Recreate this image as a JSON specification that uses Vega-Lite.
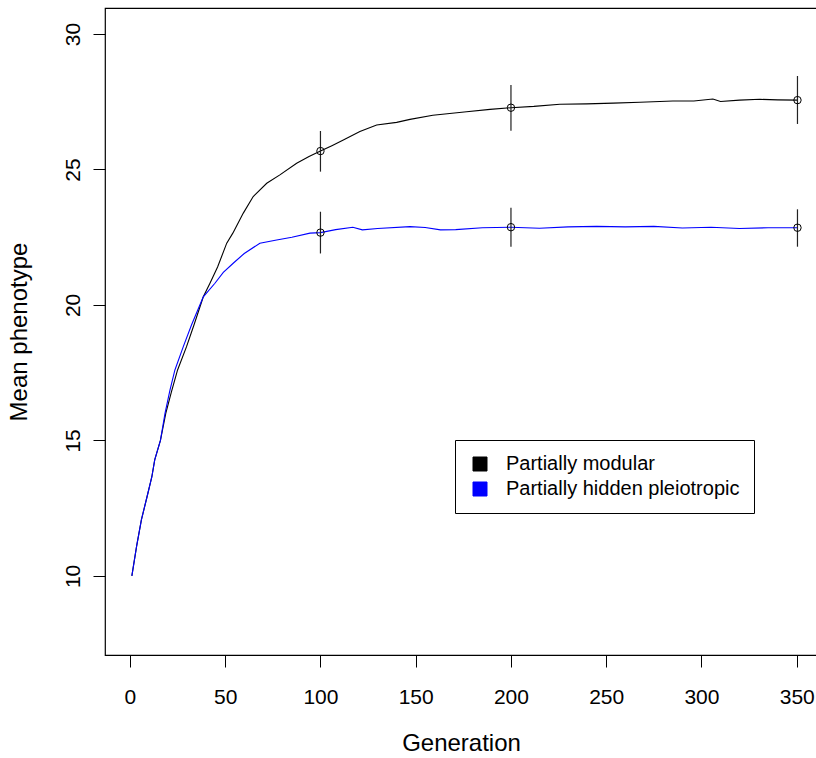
{
  "$schema": "https://vega.github.io/schema/vega-lite/v6.json",
  "autosize": {"type": "none"},
  "padding": {"left": 105, "top": 8, "right": 0, "bottom": 103},
  "width": 712,
  "height": 647,
  "background": "white",
  "config": {
    "font": "Liberation Sans",
    "view": {"stroke": "black", "strokeWidth": 1.2},
    "axis": {
      "grid": false,
      "domain": false,
      "tickColor": "black",
      "tickSize": 12,
      "labelColor": "black",
      "labelFontSize": 21,
      "labelFont": "Liberation Sans",
      "titleFont": "Liberation Sans",
      "titleFontSize": 24,
      "titleFontWeight": "normal",
      "titleColor": "black"
    }
  },
  "datasets": {
    "curves": [
      {"series": "Partially modular", "gen": 1, "value": 10.0},
      {"series": "Partially modular", "gen": 3.5, "value": 11.1},
      {"series": "Partially modular", "gen": 6, "value": 12.07},
      {"series": "Partially modular", "gen": 9, "value": 12.93},
      {"series": "Partially modular", "gen": 11.5, "value": 13.66},
      {"series": "Partially modular", "gen": 13, "value": 14.28},
      {"series": "Partially modular", "gen": 16, "value": 15.0},
      {"series": "Partially modular", "gen": 18.8, "value": 16.0},
      {"series": "Partially modular", "gen": 21.8, "value": 16.8},
      {"series": "Partially modular", "gen": 25, "value": 17.6},
      {"series": "Partially modular", "gen": 29.7, "value": 18.46},
      {"series": "Partially modular", "gen": 33.6, "value": 19.26},
      {"series": "Partially modular", "gen": 38.5, "value": 20.3},
      {"series": "Partially modular", "gen": 42, "value": 20.8},
      {"series": "Partially modular", "gen": 46, "value": 21.4},
      {"series": "Partially modular", "gen": 50.8, "value": 22.28},
      {"series": "Partially modular", "gen": 54, "value": 22.65},
      {"series": "Partially modular", "gen": 59.5, "value": 23.39},
      {"series": "Partially modular", "gen": 64.7, "value": 24.0},
      {"series": "Partially modular", "gen": 71.8, "value": 24.49},
      {"series": "Partially modular", "gen": 78.7, "value": 24.8},
      {"series": "Partially modular", "gen": 87.5, "value": 25.23},
      {"series": "Partially modular", "gen": 94, "value": 25.48},
      {"series": "Partially modular", "gen": 100, "value": 25.68},
      {"series": "Partially modular", "gen": 106, "value": 25.88},
      {"series": "Partially modular", "gen": 112, "value": 26.09},
      {"series": "Partially modular", "gen": 120.7, "value": 26.4},
      {"series": "Partially modular", "gen": 129.5, "value": 26.64},
      {"series": "Partially modular", "gen": 140, "value": 26.74},
      {"series": "Partially modular", "gen": 147, "value": 26.85},
      {"series": "Partially modular", "gen": 159, "value": 27.0},
      {"series": "Partially modular", "gen": 176.7, "value": 27.13},
      {"series": "Partially modular", "gen": 189, "value": 27.22},
      {"series": "Partially modular", "gen": 200, "value": 27.28},
      {"series": "Partially modular", "gen": 212, "value": 27.33},
      {"series": "Partially modular", "gen": 225.7, "value": 27.41},
      {"series": "Partially modular", "gen": 239.7, "value": 27.42},
      {"series": "Partially modular", "gen": 253.7, "value": 27.45},
      {"series": "Partially modular", "gen": 267.7, "value": 27.48},
      {"series": "Partially modular", "gen": 285, "value": 27.53},
      {"series": "Partially modular", "gen": 296, "value": 27.53},
      {"series": "Partially modular", "gen": 306, "value": 27.6},
      {"series": "Partially modular", "gen": 310, "value": 27.51},
      {"series": "Partially modular", "gen": 320, "value": 27.56},
      {"series": "Partially modular", "gen": 330.7, "value": 27.59},
      {"series": "Partially modular", "gen": 340, "value": 27.57},
      {"series": "Partially modular", "gen": 350.4, "value": 27.56},
      {"series": "Partially hidden pleiotropic", "gen": 1, "value": 10.0},
      {"series": "Partially hidden pleiotropic", "gen": 3.5, "value": 11.1},
      {"series": "Partially hidden pleiotropic", "gen": 6, "value": 12.07},
      {"series": "Partially hidden pleiotropic", "gen": 9, "value": 12.93},
      {"series": "Partially hidden pleiotropic", "gen": 11.5, "value": 13.66},
      {"series": "Partially hidden pleiotropic", "gen": 13, "value": 14.28},
      {"series": "Partially hidden pleiotropic", "gen": 16, "value": 15.0},
      {"series": "Partially hidden pleiotropic", "gen": 18.4, "value": 16.0},
      {"series": "Partially hidden pleiotropic", "gen": 21, "value": 16.86},
      {"series": "Partially hidden pleiotropic", "gen": 23.6, "value": 17.6},
      {"series": "Partially hidden pleiotropic", "gen": 28, "value": 18.46},
      {"series": "Partially hidden pleiotropic", "gen": 32.3, "value": 19.26},
      {"series": "Partially hidden pleiotropic", "gen": 38.5, "value": 20.3},
      {"series": "Partially hidden pleiotropic", "gen": 44.6, "value": 20.8},
      {"series": "Partially hidden pleiotropic", "gen": 49, "value": 21.2},
      {"series": "Partially hidden pleiotropic", "gen": 54.2, "value": 21.54},
      {"series": "Partially hidden pleiotropic", "gen": 60, "value": 21.9},
      {"series": "Partially hidden pleiotropic", "gen": 68.2, "value": 22.28},
      {"series": "Partially hidden pleiotropic", "gen": 77, "value": 22.4},
      {"series": "Partially hidden pleiotropic", "gen": 85, "value": 22.5},
      {"series": "Partially hidden pleiotropic", "gen": 94.5, "value": 22.65},
      {"series": "Partially hidden pleiotropic", "gen": 100, "value": 22.67},
      {"series": "Partially hidden pleiotropic", "gen": 108, "value": 22.78},
      {"series": "Partially hidden pleiotropic", "gen": 117, "value": 22.87},
      {"series": "Partially hidden pleiotropic", "gen": 122, "value": 22.77},
      {"series": "Partially hidden pleiotropic", "gen": 130, "value": 22.82},
      {"series": "Partially hidden pleiotropic", "gen": 147, "value": 22.89},
      {"series": "Partially hidden pleiotropic", "gen": 155, "value": 22.86},
      {"series": "Partially hidden pleiotropic", "gen": 163, "value": 22.77},
      {"series": "Partially hidden pleiotropic", "gen": 171, "value": 22.78},
      {"series": "Partially hidden pleiotropic", "gen": 185, "value": 22.85},
      {"series": "Partially hidden pleiotropic", "gen": 200, "value": 22.87},
      {"series": "Partially hidden pleiotropic", "gen": 215, "value": 22.83},
      {"series": "Partially hidden pleiotropic", "gen": 230, "value": 22.88},
      {"series": "Partially hidden pleiotropic", "gen": 245, "value": 22.9},
      {"series": "Partially hidden pleiotropic", "gen": 260, "value": 22.88},
      {"series": "Partially hidden pleiotropic", "gen": 275, "value": 22.9},
      {"series": "Partially hidden pleiotropic", "gen": 290, "value": 22.84},
      {"series": "Partially hidden pleiotropic", "gen": 305, "value": 22.87},
      {"series": "Partially hidden pleiotropic", "gen": 320, "value": 22.82},
      {"series": "Partially hidden pleiotropic", "gen": 335, "value": 22.85},
      {"series": "Partially hidden pleiotropic", "gen": 350.4, "value": 22.85}
    ],
    "markers": [
      {"series": "Partially modular", "gen": 100, "mean": 25.68, "lo": 24.92, "hi": 26.42},
      {"series": "Partially modular", "gen": 200, "mean": 27.28, "lo": 26.43, "hi": 28.12},
      {"series": "Partially modular", "gen": 350.4, "mean": 27.56, "lo": 26.68, "hi": 28.45},
      {"series": "Partially hidden pleiotropic", "gen": 100, "mean": 22.67, "lo": 21.9, "hi": 23.44},
      {"series": "Partially hidden pleiotropic", "gen": 200, "mean": 22.87, "lo": 22.15, "hi": 23.59},
      {"series": "Partially hidden pleiotropic", "gen": 350.4, "mean": 22.85, "lo": 22.15, "hi": 23.53}
    ]
  },
  "layer": [
    {
      "data": {"name": "curves"},
      "mark": {"type": "line", "strokeWidth": 1.1, "interpolate": "linear"},
      "encoding": {
        "x": {
          "field": "gen", "type": "quantitative",
          "scale": {"domain": [-13.1, 360.65], "nice": false, "zero": false},
          "axis": {"values": [0, 50, 100, 150, 200, 250, 300, 350], "title": "Generation", "labelPadding": 19, "titlePadding": 24}
        },
        "y": {
          "field": "value", "type": "quantitative",
          "scale": {"domain": [7.08, 30.96], "nice": false, "zero": false},
          "axis": {"values": [10, 15, 20, 25, 30], "title": "Mean phenotype", "labelAngle": -90, "labelAlign": "center", "labelBaseline": "bottom", "labelPadding": 10, "titlePadding": 31}
        },
        "color": {
          "field": "series", "type": "nominal",
          "scale": {"domain": ["Partially modular", "Partially hidden pleiotropic"], "range": ["#000000", "#0000ff"]},
          "legend": {
            "title": null,
            "orient": "none",
            "legendX": 350,
            "legendY": 432,
            "direction": "vertical",
            "strokeColor": "black",
            "fillColor": "white",
            "padding": 14,
            "symbolType": "square",
            "symbolSize": 196,
            "symbolOffset": 1,
            "symbolStrokeWidth": 1,
            "labelOffset": 16,
            "labelFontSize": 20,
            "labelFont": "Liberation Sans",
            "labelColor": "black",
            "labelLimit": 400,
            "rowPadding": 5,
            "encode": {
              "symbols": {
                "update": {
                  "fill": {"scale": "color", "field": "value"},
                  "stroke": {"value": "black"},
                  "strokeWidth": {"value": 1},
                  "opacity": {"value": 1}
                }
              }
            }
          }
        },
        "detail": {"field": "series"}
      }
    },
    {
      "data": {"name": "markers"},
      "mark": {"type": "rule", "color": "#222222", "strokeWidth": 1.2},
      "encoding": {
        "x": {"field": "gen", "type": "quantitative"},
        "y": {"field": "lo", "type": "quantitative"},
        "y2": {"field": "hi"}
      }
    },
    {
      "data": {"name": "markers"},
      "mark": {"type": "point", "shape": "circle", "filled": false, "color": "#000000", "size": 55, "strokeWidth": 1, "opacity": 1},
      "encoding": {
        "x": {"field": "gen", "type": "quantitative"},
        "y": {"field": "mean", "type": "quantitative"}
      }
    }
  ]
}
